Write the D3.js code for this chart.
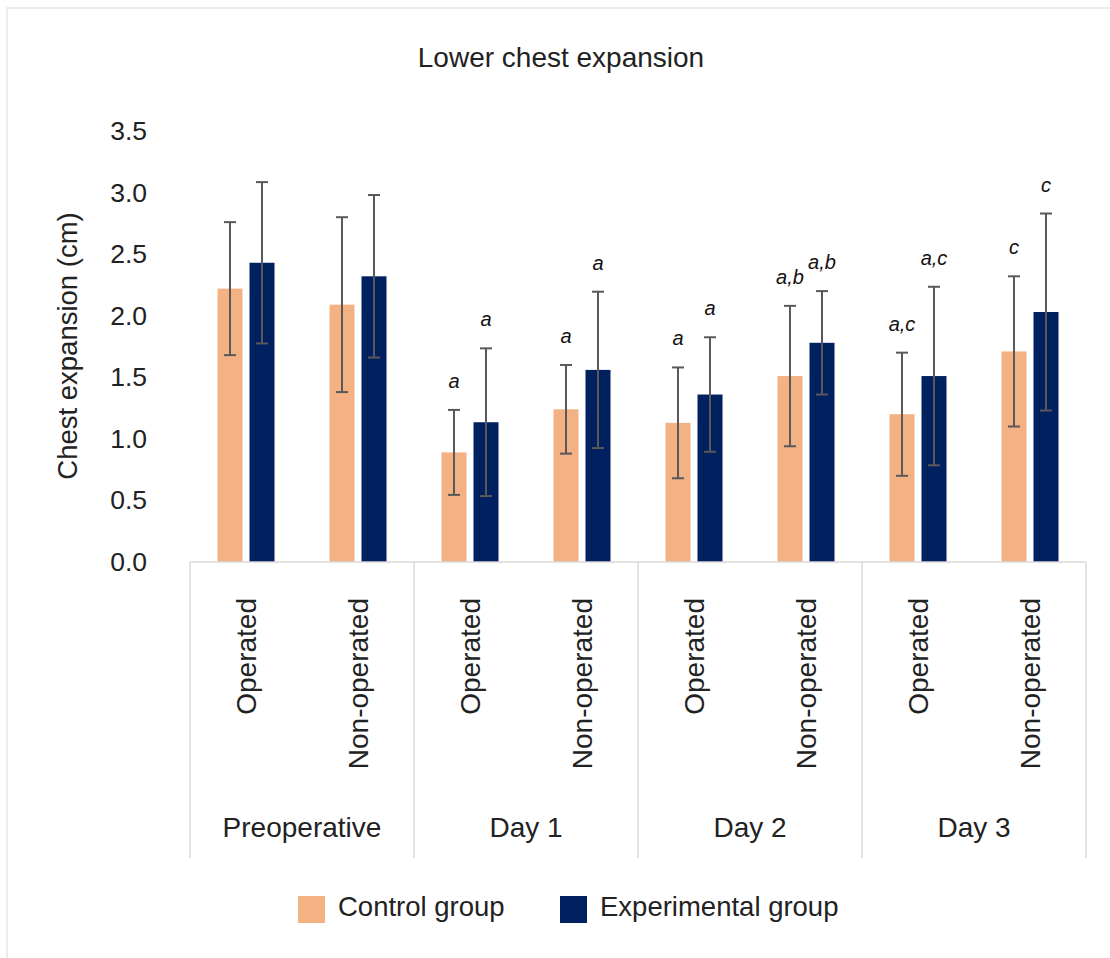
<!DOCTYPE html>
<html>
<head>
<meta charset="utf-8">
<script src="https://cdn.jsdelivr.net/npm/d3@7"></script>
<style>
  html, body { margin: 0; padding: 0; background: #ffffff; }
  svg { display: block; font-family: "Liberation Sans", Arial, sans-serif; }
</style>
</head>
<body>
<svg id="chart" width="1110" height="958"></svg>
<script>
// Lower chest expansion, mean ± SD per period and side
const periods = ["Preoperative", "Day 1", "Day 2", "Day 3"];
const sides = ["Operated", "Non-operated"];
const seriesNames = ["Control group", "Experimental group"];
const seriesColors = ["#F4B183", "#002060"];

// means, in the order Preop Op, Preop Non-op, Day1 Op, Day1 Non-op, ...
const controlMean = [2.22, 2.09, 0.89, 1.24, 1.13, 1.51, 1.20, 1.71];
const controlSD   = [0.54, 0.71, 0.345, 0.36, 0.45, 0.57, 0.50, 0.61];
const experimentalMean = [2.43, 2.32, 1.135, 1.56, 1.36, 1.78, 1.51, 2.03];
const experimentalSD   = [0.655, 0.66, 0.60, 0.635, 0.465, 0.42, 0.725, 0.80];

// significance letters shown above each whisker
const controlMarks = ["", "", "a", "a", "a", "a,b", "a,c", "c"];
const experimentalMarks = ["", "", "a", "a", "a", "a,b", "a,c", "c"];

const yTicks = [0, 0.5, 1, 1.5, 2, 2.5, 3, 3.5];

const svg = d3.select("#chart");

// outer chart frame
svg.append("rect")
  .attr("x", 7).attr("y", 8).attr("width", 1200).attr("height", 1000)
  .attr("fill", "none").attr("stroke", "#ececec").attr("stroke-width", 2);

const plotLeft = 190, plotRight = 1086, plotTop = 131, plotBottom = 562;

// one slot per (period, side)
const slots = [];
periods.forEach(p => sides.forEach(s => slots.push(p + "|" + s)));

const x = d3.scaleBand().domain(slots).range([plotLeft, plotRight]).padding(0);
const xGroup = d3.scaleBand().domain(periods).range([plotLeft, plotRight]).padding(0);
const xInner = d3.scaleBand().domain(seriesNames)
  .range([x.bandwidth() / 2 - 28.5, x.bandwidth() / 2 + 28.5])
  .paddingInner(0.21875).paddingOuter(0);
const y = d3.scaleLinear().domain([0, 3.5]).range([plotBottom, plotTop]);

const series = [
  { name: seriesNames[0], color: seriesColors[0], mean: controlMean, sd: controlSD, marks: controlMarks },
  { name: seriesNames[1], color: seriesColors[1], mean: experimentalMean, sd: experimentalSD, marks: experimentalMarks }
];

const rows = [];
series.forEach(s => slots.forEach((slot, i) => rows.push({
  slot, series: s.name, color: s.color, mean: s.mean[i], sd: s.sd[i], mark: s.marks[i]
})));

// y axis labels (no axis line, no ticks)
const yAxis = svg.append("g")
  .attr("transform", `translate(${plotLeft},0)`)
  .call(d3.axisLeft(y).tickValues(yTicks).tickFormat(d3.format(".1f")).tickSize(0).tickPadding(43));
yAxis.select(".domain").remove();
yAxis.selectAll("text")
  .attr("font-size", 26.5).attr("fill", "#222222")
  .attr("font-family", "'Liberation Sans', Arial, sans-serif");

svg.append("text")
  .attr("transform", `translate(77,346) rotate(-90)`)
  .attr("text-anchor", "middle")
  .attr("font-size", 27.5).attr("fill", "#222222")
  .text("Chest expansion (cm)");

// bars
svg.append("g").selectAll("rect").data(rows).join("rect")
  .attr("x", d => x(d.slot) + xInner(d.series))
  .attr("width", xInner.bandwidth())
  .attr("y", d => y(d.mean))
  .attr("height", d => y(0) - y(d.mean))
  .attr("fill", d => d.color);

// error bars
const eb = svg.append("g").attr("stroke", "#595959").attr("stroke-width", 2).attr("fill", "none");
const cx = d => x(d.slot) + xInner(d.series) + xInner.bandwidth() / 2;
eb.selectAll("line.v").data(rows).join("line").attr("class", "v")
  .attr("x1", cx).attr("x2", cx)
  .attr("y1", d => y(d.mean + d.sd)).attr("y2", d => y(d.mean - d.sd));
eb.selectAll("line.t").data(rows).join("line").attr("class", "t")
  .attr("x1", d => cx(d) - 6).attr("x2", d => cx(d) + 6)
  .attr("y1", d => y(d.mean + d.sd)).attr("y2", d => y(d.mean + d.sd));
eb.selectAll("line.b").data(rows).join("line").attr("class", "b")
  .attr("x1", d => cx(d) - 6).attr("x2", d => cx(d) + 6)
  .attr("y1", d => y(d.mean - d.sd)).attr("y2", d => y(d.mean - d.sd));

// significance letters
svg.append("g").selectAll("text").data(rows.filter(d => d.mark)).join("text")
  .attr("x", cx)
  .attr("y", d => y(d.mean + d.sd) - 22)
  .attr("text-anchor", "middle")
  .attr("font-size", 20).attr("font-style", "italic").attr("fill", "#111111")
  .text(d => d.mark);

// category axis: baseline and group dividers
const axisG = svg.append("g").attr("stroke", "#d9d9d9").attr("stroke-width", 1.5);
axisG.append("line")
  .attr("x1", plotLeft).attr("x2", plotRight)
  .attr("y1", plotBottom).attr("y2", plotBottom);
const dividers = periods.map(p => xGroup(p)).concat([plotRight]);
axisG.selectAll("line.div").data(dividers).join("line").attr("class", "div")
  .attr("x1", d => d).attr("x2", d => d)
  .attr("y1", plotBottom).attr("y2", 858);

// side labels (rotated)
svg.append("g").selectAll("text").data(slots).join("text")
  .attr("transform", d => `translate(${x(d) + x.bandwidth() / 2},598) rotate(-90)`)
  .attr("dy", "0.35em")
  .attr("text-anchor", "end")
  .attr("font-size", 28).attr("fill", "#222222")
  .text(d => d.split("|")[1]);

// period labels
svg.append("g").selectAll("text").data(periods).join("text")
  .attr("x", d => xGroup(d) + xGroup.bandwidth() / 2)
  .attr("y", 837)
  .attr("text-anchor", "middle")
  .attr("font-size", 28).attr("fill", "#222222")
  .text(d => d);

// title
svg.append("text")
  .attr("x", 561).attr("y", 67)
  .attr("text-anchor", "middle")
  .attr("font-size", 28).attr("fill", "#222222")
  .text("Lower chest expansion");

// legend
const legendX = [298, 560];
const legend = svg.append("g").selectAll("g").data(series).join("g")
  .attr("transform", (d, i) => `translate(${legendX[i]},896)`);
legend.append("rect").attr("width", 27).attr("height", 27).attr("fill", d => d.color);
legend.append("text")
  .attr("x", 40).attr("y", 20)
  .attr("font-size", 27.5).attr("fill", "#222222")
  .text(d => d.name);
</script>
</body>
</html>
